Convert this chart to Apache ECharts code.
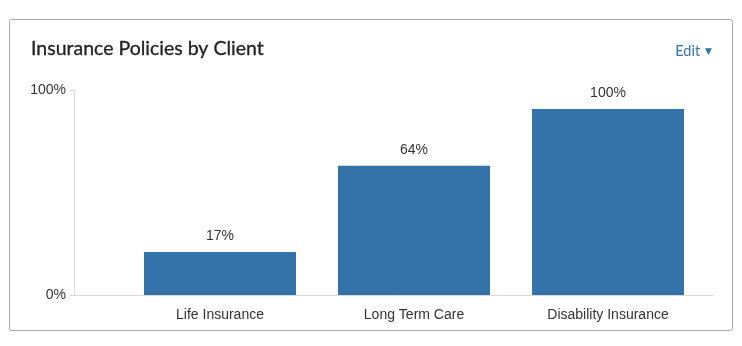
<!DOCTYPE html>
<html>
<head>
<meta charset="utf-8">
<script src="https://cdn.jsdelivr.net/npm/echarts@6/dist/echarts.min.js"></script>
<style>
html,body{margin:0;padding:0;background:#fff;}
#chart{width:742px;height:346px;}
</style>
</head>
<body>
<div id="chart"></div>
<script>
const categories = ['Life Insurance', 'Long Term Care', 'Disability Insurance'];
const barValues = [21, 63, 90.7];
const barLabels = ['17%', '64%', '100%'];
const yTickLabels = ['0%', '100%'];

const chart = echarts.init(document.getElementById('chart'));
const font = '"Liberation Sans", Arial, Helvetica, sans-serif';
chart.setOption({
  animation: false,
  backgroundColor: '#fff',
  graphic: [{
    type: 'rect',
    shape: { x: 9.5, y: 19.5, width: 723, height: 311, r: 2 },
    style: { fill: 'none', stroke: '#a8a8a8', lineWidth: 1 },
    z: -1
  }],
  title: [{
    text: 'Insurance Policies by Client',
    left: 26, top: 34,
    textStyle: { fontFamily: 'Lato, "Open Sans", sans-serif', fontSize: 19.5, fontWeight: 'normal', color: '#222',
      textBorderColor: '#222', textBorderWidth: 0.3 }
  }, {
    text: '{e|Edit}{t|▼}',
    right: 25, top: 37,
    textStyle: {
      fontWeight: 'normal',
      rich: {
        e: { fontFamily: 'Lato, "Open Sans", sans-serif', fontSize: 14.5, fontWeight: 'normal', color: '#3272ad', verticalAlign: 'middle', height: 18, lineHeight: 18 },
        t: { fontSize: 9, fontWeight: 'normal', color: '#3272ad', fontFamily: 'DejaVu Sans', verticalAlign: 'middle', padding: [2, 0, 0, 5], height: 18, lineHeight: 18 }
      }
    }
  }],
  grid: { left: 74, right: 29, top: 90, bottom: 51, containLabel: false },
  xAxis: {
    type: 'value',
    min: -0.7526,
    max: 2.5412,
    splitLine: { show: false },
    axisLine: { show: true, onZero: false, lineStyle: { color: '#d9d9d9' } },
    axisTick: { show: false },
    axisLabel: {
      customValues: [0, 1, 2],
      formatter: v => categories[Math.round(v)] || '',
      color: '#333', fontFamily: font, fontSize: 14, margin: 13
    }
  },
  yAxis: {
    type: 'value',
    min: 0, max: 100, interval: 100,
    splitLine: { show: false },
    axisLine: { show: true, onZero: false, lineStyle: { color: '#d9d9d9' } },
    axisTick: { show: true, length: 4, lineStyle: { color: '#d9d9d9' } },
    axisLabel: {
      formatter: v => yTickLabels[v === 0 ? 0 : 1],
      color: '#333', fontFamily: font, fontSize: 14, margin: 8
    }
  },
  series: [{
    type: 'bar',
    barWidth: 152,
    data: barValues.map((v, i) => [i, v]),
    itemStyle: { color: '#3473a9' },
    label: {
      show: true, position: 'top', distance: 9,
      formatter: p => barLabels[p.dataIndex],
      color: '#333', fontFamily: font, fontSize: 14
    }
  }]
});
</script>
</body>
</html>
